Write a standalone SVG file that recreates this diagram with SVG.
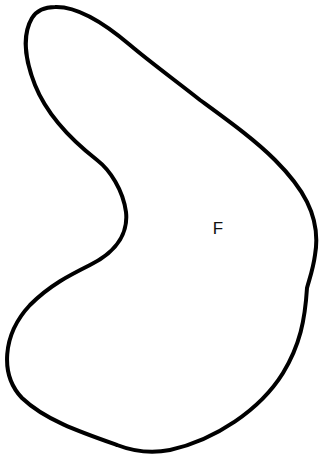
<svg xmlns="http://www.w3.org/2000/svg" width="320" height="456" viewBox="0 0 320 456">
<style>
.shape{fill:none;stroke:#000;stroke-width:4;stroke-linejoin:round}
.lbl{font-family:"Liberation Sans",Arial,sans-serif;font-size:17px;fill:#111;text-anchor:middle}
</style>
<rect width="320" height="456" fill="#fff"/>
<g id="F">
<path class="shape" d="M 55,7 C 80,6 110,28 130,45 C 150,62 180,84 200,100 C 230,122 255,140 275,160 C 300,185 322,215 315,255 C 313,270 309,280 307,288 C 305,320 300,345 283,373 C 260,410 215,440 170,450 C 150,454 130,450 117,445 C 80,432 45,420 22,398 C 0,375 2,335 30,305 C 50,285 70,275 90,265 C 120,250 128,230 126,212 C 123,190 110,170 97,160 C 65,135 45,110 35,85 C 25,60 22,35 32,18 C 37,10 45,7 55,7 Z"/>
<text class="lbl" x="218" y="234">F</text>
</g>
<g id="connectors"/>
</svg>
